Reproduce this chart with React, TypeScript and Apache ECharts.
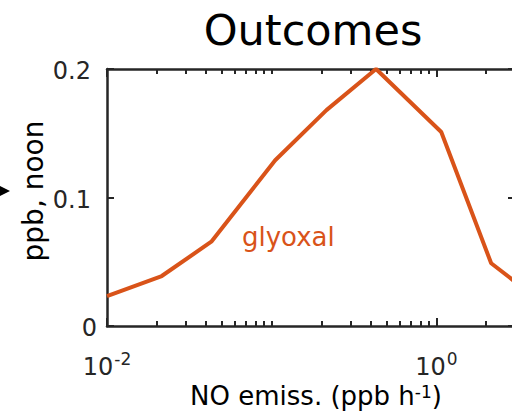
import React, { useEffect, useRef } from "react";
import * as echarts from "echarts";

const xValues = [0.01, 0.0215, 0.043, 0.105, 0.215, 0.43, 1.07, 2.15, 4.3];
const glyoxal = [0.0233, 0.0389, 0.0656, 0.129, 0.168, 0.2, 0.151, 0.0488, 0.019];
const minorTicks = [0.02, 0.03, 0.04, 0.05, 0.06, 0.07, 0.08, 0.09, 0.1, 0.2, 0.3, 0.4, 0.5, 0.6, 0.7, 0.8, 0.9, 2, 3];
const majorTicks = [0.01, 1];
const xLabelValues = [0.01, 1];
const yTicks = [0, 0.1, 0.2];

const FONT = "DejaVu Sans";
const INK = "#262626";
const ORANGE = "#D95319";

export default function App() {
  const ref = useRef<HTMLDivElement>(null);
  useEffect(() => {
    if (!ref.current) return;
    const chart = echarts.init(ref.current, undefined, { renderer: "svg" });
    const baseX = (position: string, ticks: number[], len: number, line: boolean, labels: boolean) => ({
      type: "log",
      logBase: 10,
      min: 0.01,
      max: 3,
      position,
      gridIndex: 0,
      axisLine: { show: line, onZero: false, lineStyle: { color: INK, width: 2.5 } },
      axisTick: { show: true, inside: true, length: len, customValues: ticks, lineStyle: { color: INK, width: 2 } },
      splitLine: { show: false },
      minorTick: { show: false },
      axisLabel: labels
        ? {
            show: true,
            customValues: xLabelValues,
            margin: 24,
            formatter: (v: number) => `{b|10}{s|${Math.round(Math.log10(v))}}`,
            rich: {
              b: { fontFamily: FONT, fontSize: 24, lineHeight: 24, color: INK, padding: [10, 0, 0, 0] },
              s: { fontFamily: FONT, fontSize: 17, lineHeight: 17, color: INK, verticalAlign: "top", padding: [0, 0, 0, 1] },
            },
          }
        : { show: false },
    });
    const baseY = (position: string, labels: boolean) => ({
      type: "value",
      min: 0,
      max: 0.2,
      interval: 0.1,
      position,
      axisLine: { show: true, lineStyle: { color: INK, width: 2.5 } },
      axisTick: { show: true, inside: true, length: 7, customValues: yTicks, lineStyle: { color: INK, width: 2 } },
      splitLine: { show: false },
      axisLabel: labels
        ? {
            show: true,
            margin: 10,
            formatter: (v: number) => (v === 0 ? "{z|0}" : `{p|${v}}`),
            rich: {
              z: { fontFamily: FONT, fontSize: 24, color: INK, padding: [4, 0, 0, 0] },
              p: { fontFamily: FONT, fontSize: 24, color: INK, padding: [4, 6, 0, 0] },
            },
          }
        : { show: false },
    });
    chart.setOption({
      animation: false,
      backgroundColor: "#ffffff",
      grid: { left: 107, top: 69, width: 408, height: 257 },
      xAxis: [
        baseX("bottom", minorTicks, 5, true, true),
        baseX("bottom", majorTicks, 8, false, false),
        baseX("top", minorTicks, 5, true, false),
        baseX("top", majorTicks, 8, false, false),
      ],
      yAxis: [baseY("left", true), baseY("right", false)],
      series: [
        {
          type: "line",
          xAxisIndex: 0,
          yAxisIndex: 0,
          data: xValues.map((x, i) => [x, glyoxal[i]]),
          showSymbol: false,
          symbol: "none",
          clip: true,
          lineStyle: { color: ORANGE, width: 4 },
          z: 1,
        },
      ],
      graphic: [
        {
          type: "text",
          x: 313,
          y: 30,
          style: { text: "Outcomes", fontFamily: FONT, fontSize: 43, fill: "#000", align: "center", verticalAlign: "middle" },
        },
        {
          type: "text",
          x: 33,
          y: 191,
          rotation: Math.PI / 2,
          style: { text: "ppb, noon", fontFamily: FONT, fontSize: 28, fill: "#000", align: "center", verticalAlign: "middle" },
        },
        {
          type: "text",
          x: 242,
          y: 237,
          style: { text: "glyoxal", fontFamily: FONT, fontSize: 26, fill: ORANGE, align: "left", verticalAlign: "middle" },
        },
        {
          type: "text",
          x: 316,
          y: 396,
          style: {
            text: "{a|NO emiss. (ppb h}{s|-1}{a|)}",
            align: "center",
            verticalAlign: "middle",
            rich: {
              a: { fontFamily: FONT, fontSize: 26, lineHeight: 26, fill: "#000" },
              s: { fontFamily: FONT, fontSize: 17, lineHeight: 17, fill: "#000", verticalAlign: "top" },
            },
          },
        },
        {
          type: "polygon",
          shape: { points: [[0, 186], [10, 191], [0, 196]] },
          style: { fill: "#000" },
        },
      ],
    });
    return () => chart.dispose();
  }, []);
  return (
    <div style={{ position: "absolute", left: 0, top: 0, width: 512, height: 414, overflow: "hidden", background: "#fff" }}>
      <div ref={ref} style={{ width: 530, height: 414 }} />
    </div>
  );
}
